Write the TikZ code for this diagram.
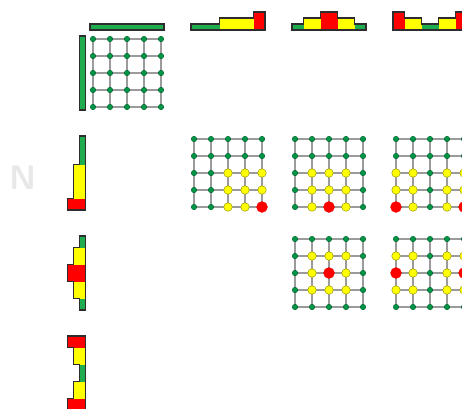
\documentclass[tikz,border=0pt]{standalone}
\usetikzlibrary{backgrounds}

\definecolor{lv1}{RGB}{30,172,78}
\definecolor{lv2}{RGB}{255,255,0}
\definecolor{lv3}{RGB}{255,0,0}
\definecolor{dotgreen}{RGB}{0,150,70}
\definecolor{edgegray}{RGB}{155,155,155}
\definecolor{outline}{RGB}{45,45,45}

% lattice: name, x, y of first node, row levels, column levels
\newcommand{\lattice}[5]{%
  \foreach \r/\rl in {#4} {
    \foreach \c/\cl in {#5} {
      \pgfmathtruncatemacro{\lv}{min(\rl,\cl)}
      \node[style/.expanded=dot\lv] (#1-\r-\c) at ({#2+17*\c},{#3+17*\r}) {};
    }
  }
  \begin{pgfonlayer}{background}
    \foreach \k in {0,...,4} {
      \draw[edge] (#1-\k-0.center) -- (#1-\k-4.center);
      \draw[edge] (#1-0-\k.center) -- (#1-4-\k.center);
    }
  \end{pgfonlayer}
}

% marginal over the columns, standing on y=30
\newcommand{\tophist}[2]{%
  \foreach \c/\cl in {#2}
    \fill[lv\cl] ({max(#1-3,#1+17*\c-8.5)},30) rectangle ({min(#1+71,#1+17*\c+8.5)},{30-6*\cl});
  \draw[histline] (#1-3,30) \foreach \c/\cl in {#2} {
      -- ({max(#1-3,#1+17*\c-8.5)},{30-6*\cl}) -- ({min(#1+71,#1+17*\c+8.5)},{30-6*\cl}) }
    -- (#1+71,30) -- cycle;
}

% marginal over the rows, hanging from x=85.5
\newcommand{\lefthist}[2]{%
  \foreach \r/\rl in {#2}
    \fill[lv\rl] (85.5,{max(#1-3,#1+17*\r-8.5)}) rectangle ({85.5-6*\rl},{min(#1+71,#1+17*\r+8.5)});
  \draw[histline] (85.5,#1-3) \foreach \r/\rl in {#2} {
      -- ({85.5-6*\rl},{max(#1-3,#1+17*\r-8.5)}) -- ({85.5-6*\rl},{min(#1+71,#1+17*\r+8.5)}) }
    -- (85.5,#1+71) -- cycle;
}

\begin{document}
\begin{tikzpicture}[
  x=1pt, y=-1pt,
  edge/.style={draw=edgegray, line width=1.4pt},
  histline/.style={draw=outline, line width=1.2pt},
  dot1/.style={circle, inner sep=0pt, minimum size=5.5pt, fill=dotgreen, draw=dotgreen!60!black, line width=0.4pt},
  dot2/.style={circle, inner sep=0pt, minimum size=8.5pt, fill=lv2, draw=lv2!60!black, line width=0.5pt},
  dot3/.style={circle, inner sep=0pt, minimum size=11pt, fill=lv3, draw=lv3!90!black, line width=0.3pt},
  watermark/.style={font=\sffamily\bfseries\fontsize{34}{34}\selectfont, text=black!9}
]
\useasboundingbox (0,0) rectangle (462,408);

\node[watermark] (logo) at (23,178) {N};

% column marginals
\tophist{93}{0/1,1/1,2/1,3/1,4/1}
\tophist{194}{0/1,1/1,2/2,3/2,4/3}
\tophist{295}{0/1,1/2,2/3,3/2,4/1}
\tophist{396}{0/3,1/2,2/1,3/2,4/3}

% row marginals
\lefthist{39}{0/1,1/1,2/1,3/1,4/1}
\lefthist{139}{0/1,1/1,2/2,3/2,4/3}
\lefthist{239}{0/1,1/2,2/3,3/2,4/1}
\lefthist{339}{0/3,1/2,2/1,3/2,4/3}

% lattices
\lattice{g00}{93}{39}{0/1,1/1,2/1,3/1,4/1}{0/1,1/1,2/1,3/1,4/1}
\lattice{g11}{194}{139}{0/1,1/1,2/2,3/2,4/3}{0/1,1/1,2/2,3/2,4/3}
\lattice{g12}{295}{139}{0/1,1/1,2/2,3/2,4/3}{0/1,1/2,2/3,3/2,4/1}
\lattice{g13}{396}{139}{0/1,1/1,2/2,3/2,4/3}{0/3,1/2,2/1,3/2,4/3}
\lattice{g22}{295}{239}{0/1,1/2,2/3,3/2,4/1}{0/1,1/2,2/3,3/2,4/1}
\lattice{g23}{396}{239}{0/1,1/2,2/3,3/2,4/1}{0/3,1/2,2/1,3/2,4/3}

\end{tikzpicture}
\end{document}
